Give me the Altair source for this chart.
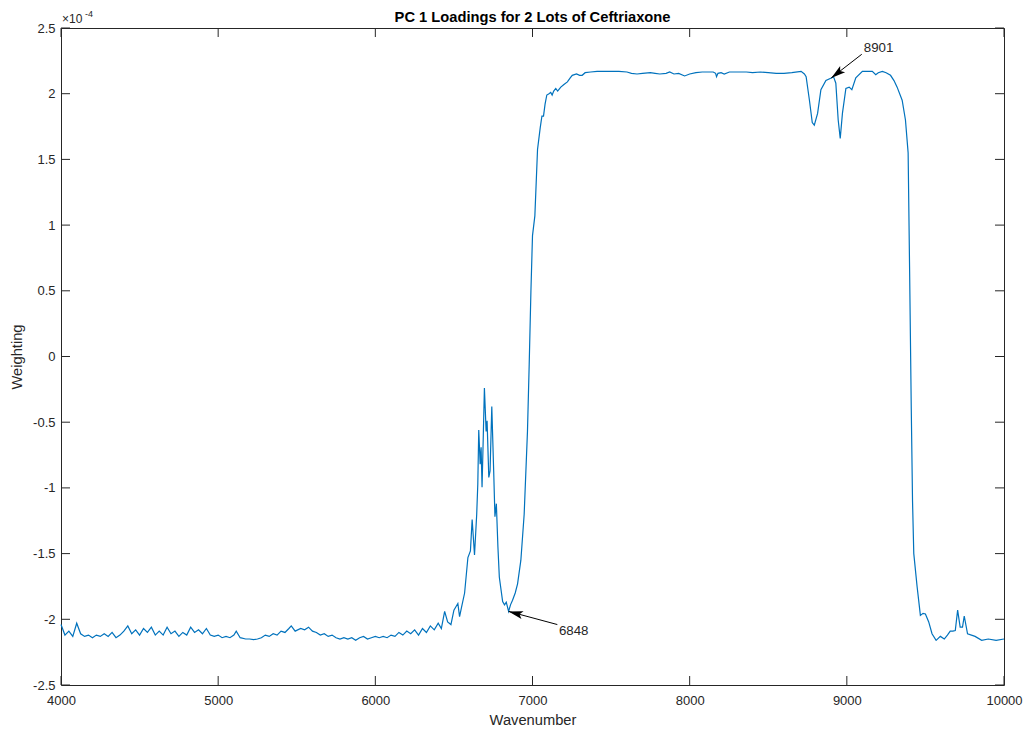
import math
import altair as alt
import pandas as pd

# ---- data (weighting values in units of 1e-4) ----
wavenumber = [
    4000, 4025, 4050, 4075, 4100, 4125, 4150, 4175, 4200, 4225, 4250, 4275, 4300, 4325, 4350, 4375,
    4400, 4425, 4450, 4475, 4500, 4525, 4550, 4575, 4600, 4625, 4650, 4675, 4700, 4725, 4750, 4775,
    4800, 4825, 4850, 4875, 4900, 4925, 4950, 4975, 5000, 5025, 5050, 5075, 5100, 5115, 5140, 5175,
    5200, 5225, 5250, 5275, 5300, 5325, 5350, 5375, 5400, 5425, 5450, 5465, 5490, 5525, 5550, 5575,
    5600, 5625, 5650, 5675, 5700, 5725, 5750, 5775, 5800, 5825, 5850, 5875, 5900, 5925, 5950, 5975,
    6000, 6025, 6050, 6075, 6100, 6125, 6150, 6175, 6200, 6225, 6250, 6275, 6300, 6325, 6350, 6375,
    6400, 6420, 6441, 6460, 6481, 6500, 6525, 6536, 6550, 6568, 6589, 6605, 6616, 6631, 6645, 6652,
    6658, 6667, 6673, 6679, 6687, 6694, 6705, 6711, 6722, 6730, 6741, 6753, 6761, 6770, 6780, 6789,
    6810, 6822, 6833, 6848, 6860, 6873, 6890, 6905, 6926, 6947, 6968, 6979, 6990, 7000, 7015, 7032,
    7049, 7060, 7070, 7080, 7091, 7105, 7116, 7125, 7135, 7148, 7160, 7180, 7200, 7222, 7240, 7253,
    7280, 7300, 7316, 7335, 7370, 7411, 7450, 7500, 7550, 7601, 7630, 7665, 7700, 7750, 7780, 7810,
    7850, 7873, 7900, 7930, 7968, 8000, 8040, 8080, 8120, 8150, 8165, 8171, 8180, 8200, 8220, 8253,
    8300, 8361, 8400, 8450, 8500, 8551, 8600, 8650, 8709, 8730, 8741, 8762, 8780, 8793, 8814, 8835,
    8867, 8901, 8915, 8930, 8945, 8958, 8972, 8994, 9015, 9032, 9057, 9099, 9130, 9162, 9184, 9200,
    9226, 9250, 9278, 9300, 9320, 9352, 9373, 9390, 9400, 9410, 9418, 9426, 9447, 9468, 9485, 9500,
    9521, 9542, 9568, 9595, 9620, 9640, 9658, 9675, 9690, 9705, 9721, 9736, 9747, 9768, 9816, 9858,
    9900, 9950, 10000,
]
weighting = [
    -2.04, -2.12, -2.09, -2.13, -2.03, -2.11, -2.13, -2.12, -2.14, -2.12, -2.13, -2.11, -2.13, -2.10, -2.14, -2.12,
    -2.09, -2.05, -2.11, -2.08, -2.12, -2.07, -2.10, -2.06, -2.12, -2.09, -2.12, -2.06, -2.11, -2.09, -2.13, -2.10,
    -2.12, -2.06, -2.10, -2.08, -2.11, -2.07, -2.12, -2.13, -2.12, -2.14, -2.13, -2.14, -2.12, -2.09, -2.14, -2.15,
    -2.15, -2.155, -2.15, -2.14, -2.12, -2.13, -2.11, -2.12, -2.09, -2.10, -2.07, -2.05, -2.09, -2.07, -2.08, -2.06,
    -2.09, -2.10, -2.12, -2.11, -2.13, -2.12, -2.14, -2.15, -2.14, -2.15, -2.14, -2.16, -2.14, -2.13, -2.15, -2.14,
    -2.13, -2.14, -2.13, -2.14, -2.12, -2.13, -2.10, -2.12, -2.09, -2.11, -2.08, -2.12, -2.07, -2.10, -2.05, -2.08,
    -2.03, -2.07, -1.94, -2.02, -2.04, -1.93, -1.88, -1.98, -1.90, -1.80, -1.53, -1.48, -1.24, -1.51, -1.20, -0.97,
    -0.56, -0.82, -0.69, -0.995, -0.60, -0.24, -0.57, -0.49, -0.92, -0.87, -0.38, -0.87, -1.22, -1.12, -1.45, -1.68,
    -1.865, -1.89, -1.87, -1.94, -1.89, -1.855, -1.80, -1.73, -1.55, -1.20, -0.57, -0.06, 0.50, 0.92, 1.07, 1.575,
    1.74, 1.83, 1.83, 1.92, 1.99, 2.00, 2.01, 1.99, 2.02, 2.04, 2.02, 2.05, 2.07, 2.09, 2.12, 2.14,
    2.15, 2.14, 2.14, 2.16, 2.165, 2.17, 2.17, 2.17, 2.17, 2.165, 2.155, 2.15, 2.155, 2.16, 2.155, 2.15,
    2.155, 2.165, 2.15, 2.155, 2.135, 2.15, 2.16, 2.165, 2.165, 2.165, 2.155, 2.13, 2.155, 2.16, 2.15, 2.165,
    2.165, 2.165, 2.16, 2.165, 2.16, 2.155, 2.155, 2.16, 2.17, 2.15, 2.13, 1.95, 1.78, 1.76, 1.85, 2.03,
    2.10, 2.12, 2.13, 2.08, 1.80, 1.66, 1.85, 2.04, 2.05, 2.03, 2.12, 2.17, 2.17, 2.17, 2.145, 2.16,
    2.17, 2.16, 2.14, 2.10, 2.05, 1.95, 1.80, 1.55, 0.60, -0.40, -1.10, -1.50, -1.75, -1.97, -1.955, -1.96,
    -2.02, -2.11, -2.16, -2.13, -2.15, -2.12, -2.09, -2.09, -2.085, -1.93, -2.06, -2.06, -1.975, -2.11, -2.13, -2.16,
    -2.15, -2.16, -2.15,
]

x_ticks = [4000, 5000, 6000, 7000, 8000, 9000, 10000]
y_ticks = [-2.5, -2, -1.5, -1, -0.5, 0, 0.5, 1, 1.5, 2, 2.5]

# annotations: label, tip (x, y), tail (x, y), text position (x, y)
ann_label = ["6848", "8901"]
ann_tip_x = [6848, 8901]
ann_tip_y = [-1.94, 2.12]
ann_tail_x = [7158, 9095]
ann_tail_y = [-2.04, 2.30]
ann_text_x = [7168, 9108]
ann_text_y = [-2.09, 2.35]

TITLE = "PC 1 Loadings for 2 Lots of Ceftriaxone"
X_TITLE = "Wavenumber"
Y_TITLE = "Weighting"

X_DOM = [4000, 10000]
Y_DOM = [-2.5, 2.5]
W, H = 943, 657
TICK = 9
AX = "#262626"
LINE = "#0072BD"
FONT = "Liberation Sans"

df = pd.DataFrame({"wn": wavenumber, "w": weighting})

# arrow angle in screen space (clockwise from up)
angles = []
for tx, ty, sx, sy in zip(ann_tip_x, ann_tip_y, ann_tail_x, ann_tail_y):
    dx = (tx - sx) * W / (X_DOM[1] - X_DOM[0])
    dy = -(ty - sy) * H / (Y_DOM[1] - Y_DOM[0])
    angles.append((math.degrees(math.atan2(dx, -dy)) + 360) % 360)

ann = pd.DataFrame({
    "label": ann_label, "tx": ann_tip_x, "ty": ann_tip_y,
    "sx": ann_tail_x, "sy": ann_tail_y, "lx": ann_text_x, "ly": ann_text_y,
    "angle": angles,
})

xs = alt.Scale(domain=X_DOM, nice=False, zero=False)
ys = alt.Scale(domain=Y_DOM, nice=False, zero=False)
axis_common = dict(
    grid=False, domain=False, ticks=False, tickSize=0, labelFlush=False, labelOverlap=False,
    labelFont=FONT, labelFontSize=13, labelColor=AX,
    titleFont=FONT, titleFontSize=14.7, titleFontWeight="normal", titleColor=AX,
)
x_axis = alt.Axis(values=x_ticks, format="d", labelPadding=9, titlePadding=5, **axis_common)
y_axis = alt.Axis(values=y_ticks, labelExpr="datum.value + ''", labelPadding=6,
                  titlePadding=8, **axis_common)


def X(field):
    return alt.X(field, type="quantitative", scale=xs, title=X_TITLE, axis=x_axis)


def Y(field):
    return alt.Y(field, type="quantitative", scale=ys, title=Y_TITLE, axis=y_axis)


line = alt.Chart(df).mark_line(color=LINE, strokeWidth=1.2).encode(x=X("wn"), y=Y("w"))

xt = pd.DataFrame({"v": x_ticks})
yt = pd.DataFrame({"v": y_ticks})
tick_bottom = alt.Chart(xt).mark_rule(color=AX, strokeWidth=1).encode(
    x=X("v"), y=alt.value(H), y2=alt.value(H - TICK))
tick_top = alt.Chart(xt).mark_rule(color=AX, strokeWidth=1).encode(
    x=X("v"), y=alt.value(0), y2=alt.value(TICK))
tick_left = alt.Chart(yt).mark_rule(color=AX, strokeWidth=1).encode(
    y=Y("v"), x=alt.value(0), x2=alt.value(TICK))
tick_right = alt.Chart(yt).mark_rule(color=AX, strokeWidth=1).encode(
    y=Y("v"), x=alt.value(W), x2=alt.value(W - TICK))

arrow_line = alt.Chart(ann).mark_rule(color="black", strokeWidth=1).encode(
    x=X("sx"), y=Y("sy"), x2="tx:Q", y2="ty:Q")
arrow_head = alt.Chart(ann).mark_point(
    shape="M0,0 L0.45,1.6 L0,1.25 L-0.45,1.6 Z", filled=True, color="black",
    size=324, opacity=1, strokeWidth=0).encode(
    x=X("tx"), y=Y("ty"), angle=alt.Angle("angle:Q", scale=None))
arrow_text = alt.Chart(ann).mark_text(
    align="left", baseline="middle", font=FONT, fontSize=13.3, color=AX).encode(
    x=X("lx"), y=Y("ly"), text="label:N")

exp_df = pd.DataFrame({"x": [X_DOM[0]], "y": [Y_DOM[1]], "mid": [sum(X_DOM) / 2]})
exp_base = alt.Chart(exp_df).mark_text(
    align="left", baseline="alphabetic", font=FONT, fontSize=12, color=AX, dx=1, dy=-5
).encode(x=X("x"), y=Y("y"), text=alt.value("\u00d710"))
exp_sup = alt.Chart(exp_df).mark_text(
    align="left", baseline="alphabetic", font=FONT, fontSize=9, color=AX, dx=24, dy=-11
).encode(x=X("x"), y=Y("y"), text=alt.value("-4"))
title_txt = alt.Chart(exp_df).mark_text(
    align="center", baseline="alphabetic", font=FONT, fontSize=14.7, fontWeight="bold",
    color="black", dy=-6
).encode(x=X("mid"), y=Y("y"), text=alt.value(TITLE))

chart = alt.layer(
    line, tick_bottom, tick_top, tick_left, tick_right,
    arrow_line, arrow_head, arrow_text, exp_base, exp_sup, title_txt,
).properties(
    width=W, height=H,
    background="white",
    autosize=alt.AutoSizeParams(type="none"),
    padding={"left": 53, "top": 20, "right": 19, "bottom": 43},
).configure_view(
    stroke=AX, strokeWidth=1
)

chart.save("out.html", embed_options={"renderer": "svg", "actions": False})
